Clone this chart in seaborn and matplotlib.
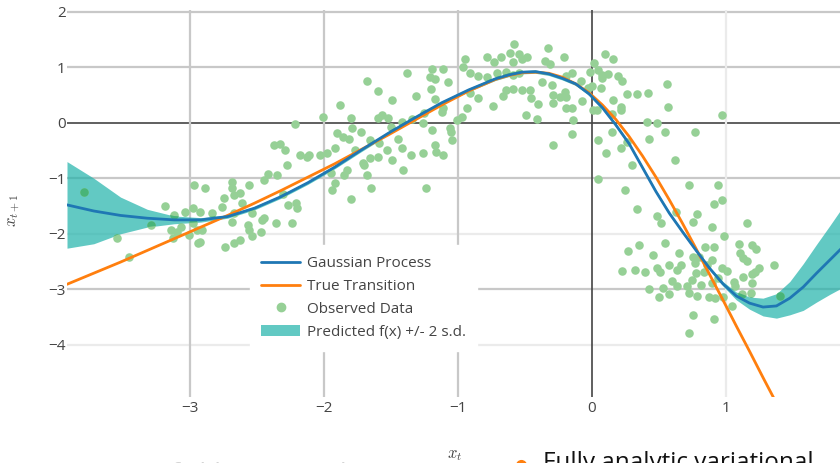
import numpy as np
import pandas as pd
import seaborn as sns
import matplotlib.pyplot as plt
from matplotlib.lines import Line2D
from matplotlib.patches import Patch

# grid the curves were read on
grid_x = [-3.92, -3.72, -3.52, -3.32, -3.12, -2.92, -2.72, -2.52, -2.32, -2.12,
          -1.92, -1.72, -1.52, -1.32, -1.12, -0.92, -0.72, -0.62, -0.52, -0.42,
          -0.32, -0.22, -0.12, -0.02, 0.08, 0.18, 0.28, 0.38, 0.48, 0.58,
          0.68, 0.78, 0.88, 0.98, 1.08, 1.18, 1.28, 1.38, 1.48, 1.58,
          1.68, 1.78, 1.88]

# Gaussian process posterior mean
gp_mean = [-1.48, -1.59, -1.67, -1.72, -1.75, -1.75, -1.69, -1.54, -1.33, -1.08,
           -0.80, -0.49, -0.19, 0.09, 0.36, 0.59, 0.79, 0.86, 0.91, 0.92,
           0.88, 0.80, 0.70, 0.52, 0.27, -0.04, -0.38, -0.81, -1.24, -1.63,
           -1.97, -2.30, -2.62, -2.90, -3.12, -3.25, -3.32, -3.30, -3.16, -2.96,
           -2.71, -2.47, -2.23]

# half width of the band (2 s.d.)
gp_two_sd = [0.78, 0.59, 0.33, 0.16, 0.07, 0.04, 0.03, 0.03, 0.03, 0.03,
             0.03, 0.03, 0.03, 0.03, 0.03, 0.03, 0.03, 0.03, 0.03, 0.03,
             0.03, 0.03, 0.03, 0.03, 0.03, 0.03, 0.03, 0.03, 0.03, 0.03,
             0.03, 0.03, 0.03, 0.04, 0.07, 0.11, 0.16, 0.22, 0.30, 0.42,
             0.52, 0.62, 0.73]

# true transition function
true_f = [-2.91, -2.71, -2.51, -2.30, -2.09, -1.88, -1.67, -1.45, -1.22, -0.98,
          -0.74, -0.48, -0.22, 0.05, 0.32, 0.57, 0.78, 0.85, 0.90, 0.91,
          0.89, 0.82, 0.70, 0.54, 0.32, 0.06, -0.25, -0.60, -0.98, -1.39,
          -1.82, -2.27, -2.73, -3.19, -3.66, -4.12, -4.59, -5.05, -5.51, -5.96,
          -6.40, -6.85, -7.28]

# observed transitions (x_t, x_t+1)
obs_pairs = [
    (-3.79, -1.24), (-3.55, -2.07), (-3.46, -2.41), (-3.29, -1.84), (-3.19, -1.50),
    (-3.14, -1.93), (-3.13, -2.07), (-3.12, -1.66), (-3.10, -1.96), (-3.07, -1.87),
    (-3.04, -1.60), (-3.01, -2.02), (-2.98, -1.53), (-2.98, -1.80), (-2.97, -1.12),
    (-2.95, -1.93), (-2.94, -2.16), (-2.93, -1.60), (-2.93, -2.14), (-2.91, -1.93),
    (-2.89, -1.17), (-2.84, -1.62), (-2.76, -1.51), (-2.75, -1.35), (-2.74, -2.23),
    (-2.69, -1.06), (-2.69, -1.17), (-2.69, -1.78), (-2.67, -1.30), (-2.67, -1.62),
    (-2.67, -2.16), (-2.63, -1.26), (-2.63, -2.11), (-2.61, -1.44), (-2.57, -1.84),
    (-2.56, -1.12), (-2.56, -1.93), (-2.54, -2.04), (-2.54, -1.62), (-2.47, -1.96),
    (-2.46, -1.75), (-2.45, -1.03), (-2.45, -1.71), (-2.42, -0.92), (-2.36, -1.80),
    (-2.35, -0.95), (-2.33, -0.38), (-2.37, -0.41), (-2.31, -1.28), (-2.29, -0.49),
    (-2.28, -0.77), (-2.27, -1.48), (-2.24, -1.80), (-2.22, -0.02), (-2.21, -1.44),
    (-2.20, -1.53), (-2.18, -0.58), (-2.13, -0.61), (-2.11, -0.59), (-2.03, -0.58),
    (-2.01, 0.11), (-1.98, -0.54), (-1.95, -0.90), (-1.94, -1.21), (-1.92, -0.45),
    (-1.92, -1.08), (-1.90, -0.18), (-1.88, 0.32), (-1.86, -0.25), (-1.85, -0.94),
    (-1.83, -0.85), (-1.81, -0.29), (-1.80, 0.09), (-1.80, -1.37), (-1.79, -0.09),
    (-1.77, -0.49), (-1.72, -0.16), (-1.71, -0.72), (-1.70, -0.76), (-1.68, 0.76),
    (-1.68, -0.95), (-1.66, -0.31), (-1.66, -0.63), (-1.65, -1.17), (-1.60, 0.58),
    (-1.60, 0.09), (-1.60, -0.61), (-1.59, -0.36), (-1.57, 0.14), (-1.53, -0.49),
    (-1.52, 0.09), (-1.50, -0.07), (-1.49, 0.41), (-1.49, -0.67), (-1.45, -0.29),
    (-1.42, 0.02), (-1.42, -0.45), (-1.41, -0.85), (-1.38, 0.90), (-1.35, -0.58),
    (-1.34, 0.07), (-1.31, 0.49), (-1.26, 0.00), (-1.26, -0.54), (-1.25, 0.18),
    (-1.24, -1.17), (-1.21, 0.83), (-1.20, 0.61), (-1.19, 0.97), (-1.19, -0.14),
    (-1.17, -0.41), (-1.17, 0.79), (-1.17, 0.43), (-1.16, -0.52), (-1.12, 0.20),
    (-1.11, 0.27), (-1.11, -0.58), (-1.11, 0.97), (-1.07, 0.74), (-1.06, -0.09),
    (-1.05, -0.16), (-1.04, -0.31), (-1.01, 0.04), (-0.97, 0.11), (-0.96, 1.01),
    (-0.95, 1.15), (-0.93, 0.27), (-0.91, 0.90), (-0.91, 0.54), (-0.85, 0.85),
    (-0.85, 0.45), (-0.78, 1.19), (-0.78, 0.83), (-0.74, 0.31), (-0.73, 1.10),
    (-0.71, 0.90), (-0.68, 1.19), (-0.66, 0.49), (-0.64, 0.92), (-0.64, 0.59),
    (-0.61, 1.26), (-0.59, 1.10), (-0.59, 0.86), (-0.59, 0.61), (-0.58, 1.42),
    (-0.54, 1.23), (-0.54, 0.90), (-0.52, 1.14), (-0.52, 0.59), (-0.49, 0.14),
    (-0.48, 1.19), (-0.46, 0.59), (-0.45, 0.45), (-0.41, 0.07), (-0.40, 0.34),
    (-0.37, 0.74), (-0.35, 1.12), (-0.33, 1.35), (-0.31, 1.05), (-0.30, 0.68),
    (-0.29, 0.50), (-0.29, 0.36), (-0.29, -0.41), (-0.24, 0.47), (-0.21, 1.19),
    (-0.20, 0.56), (-0.19, 0.85), (-0.19, 0.47), (-0.19, 0.27), (-0.15, 0.90),
    (-0.15, 0.27), (-0.15, -0.20), (-0.14, 0.05), (-0.08, 0.76), (-0.07, 0.40),
    (-0.03, 0.63), (-0.01, 0.92), (0.00, 0.67), (0.01, 0.22), (0.02, 1.08),
    (0.04, 0.22), (0.05, 0.95), (0.05, -0.31), (0.05, -1.01), (0.07, 0.63),
    (0.08, 0.81), (0.08, 0.86), (0.10, 1.24), (0.11, -0.54), (0.12, 0.88),
    (0.15, 0.16), (0.15, -0.16), (0.16, 1.14), (0.16, 0.41), (0.20, 0.85),
    (0.22, 0.29), (0.22, 0.22), (0.22, -0.45), (0.23, 0.76), (0.25, -1.21),
    (0.26, 0.52), (0.26, -0.34), (0.30, -0.77), (0.34, 0.52), (0.34, -1.55),
    (0.35, -2.20), (0.27, -2.31), (0.23, -2.67), (0.32, -2.65), (0.40, -2.68),
    (0.41, 0.02), (0.42, 0.54), (0.43, -0.29), (0.43, -2.99), (0.46, -2.38),
    (0.49, -2.61), (0.49, 0.00), (0.49, -1.68), (0.50, -3.14), (0.51, -2.68),
    (0.52, -1.80), (0.53, -2.97), (0.55, -0.16), (0.55, -2.16), (0.56, 0.70),
    (0.57, 0.29), (0.58, -2.56), (0.58, -3.08), (0.60, -2.85), (0.62, -0.67),
    (0.63, -1.60), (0.64, -2.65), (0.64, -2.94), (0.65, -2.34), (0.67, -2.56),
    (0.71, -2.94), (0.73, -1.12), (0.73, -3.06), (0.73, -3.78), (0.75, -2.83),
    (0.76, -1.78), (0.76, -2.41), (0.76, -3.46), (0.77, -0.16), (0.77, -2.52),
    (0.78, -2.70), (0.79, -1.64), (0.79, -3.12), (0.80, -2.41), (0.82, -2.92),
    (0.84, -2.68), (0.85, -2.23), (0.86, -2.56), (0.88, -3.14), (0.90, -1.87),
    (0.90, -2.47), (0.90, -2.88), (0.91, -1.46), (0.91, -2.23), (0.91, -3.53),
    (0.92, -3.15), (0.94, -1.12), (0.94, -2.79), (0.97, 0.14), (0.97, -1.39),
    (0.97, -2.61), (0.98, -3.14), (0.99, -2.04), (1.01, -2.67), (1.05, -3.30),
    (1.06, -2.86), (1.07, -2.94), (1.10, -2.18), (1.11, -2.34), (1.12, -3.08),
    (1.13, -2.43), (1.13, -2.77), (1.16, -1.80), (1.16, -2.49), (1.19, -3.06),
    (1.20, -2.20), (1.20, -2.72), (1.20, -2.88), (1.22, -2.68), (1.23, -2.27),
    (1.25, -2.61), (1.36, -2.56), (1.41, -3.12),
]

x_ticks = [-3, -2, -1, 0, 1]
y_ticks = [2, 1, 0, -1, -2, -3, -4]
x_tick_labels = ['\u22123', '\u22122', '\u22121', '0', '1']
y_tick_labels = ['2', '1', '0', '\u22121', '\u22122', '\u22123', '\u22124']

curves = pd.DataFrame({'x': grid_x, 'mean': gp_mean, 'sd2': gp_two_sd, 'true': true_f})
curves['upper'] = curves['mean'] + curves['sd2']
curves['lower'] = curves['mean'] - curves['sd2']
obs = pd.DataFrame(obs_pairs, columns=['x_t', 'x_t1'])

sns.set_style('white')
plt.rcParams['font.family'] = ['Open Sans', 'DejaVu Sans']
plt.rcParams['mathtext.fontset'] = 'cm'

fig = plt.figure(figsize=(8.4, 4.63), dpi=100)
ax = fig.add_axes([67 / 840, 1 - 397 / 463, 1 - 67 / 840, (397 - 10) / 463])

blue = '#1f77b4'
orange = '#ff7f0e'
teal = '#20b2aa'
green_on_white = '#96d096'   # green at half opacity over white
green_on_band = '#48b478'    # same green at half opacity over the band

# grid lines (some darker, like the original)
for v in y_ticks:
    col = '#444444' if v == 0 else ('#ebebeb' if v in (-2, -4) else '#c8c8c8')
    ax.axhline(v, color=col, lw=1.6 if v != 0 else 1.2, zorder=0)
for v in x_ticks:
    col = '#444444' if v == 0 else ('#ebebeb' if v == 1 else '#c8c8c8')
    ax.axvline(v, color=col, lw=1.6 if v != 0 else 1.2, zorder=0)

band = ax.fill_between(curves['x'], curves['lower'], curves['upper'], color=teal,
                       alpha=0.7, lw=0, zorder=1)
sns.scatterplot(data=obs, x='x_t', y='x_t1', color=green_on_white, s=38,
                linewidth=0, ax=ax, zorder=2)
# points seen through the band look darker in the original
sns.scatterplot(data=obs, x='x_t', y='x_t1', color=green_on_band, s=38,
                linewidth=0, ax=ax, zorder=2.1)
ax.collections[-1].set_clip_path(band.get_paths()[0], transform=ax.transData)

sns.lineplot(data=curves, x='x', y='true', color=orange, lw=2, ax=ax,
             sort=False, estimator=None, zorder=3)
sns.lineplot(data=curves, x='x', y='mean', color=blue, lw=2, ax=ax,
             sort=False, estimator=None, zorder=4)

ax.set_xlim(-3.92, 1.855)
ax.set_ylim(-4.94, 2.03)
ax.set_xticks(x_ticks)
ax.set_xticklabels(x_tick_labels)
ax.set_yticks(y_ticks)
ax.set_yticklabels(y_tick_labels)
ax.tick_params(length=0, labelsize=11, labelcolor='#444444')
ax.tick_params(axis='y', pad=1)
ax.tick_params(axis='x', pad=3)
ax.set_xlabel('')
ax.set_ylabel('')
for s in ax.spines.values():
    s.set_visible(False)

handles = [
    Line2D([], [], color=blue, lw=2),
    Line2D([], [], color=orange, lw=2),
    Line2D([], [], color=green_on_white, marker='o', ls='', markersize=6),
    Patch(color=teal, alpha=0.7, lw=0),
]
labels = ['Gaussian Process', 'True Transition', 'Observed Data',
          'Predicted f(x) +/- 2 s.d.']
leg = ax.legend(handles, labels, loc='upper left', bbox_to_anchor=(0.237, 0.393),
                borderaxespad=0, frameon=True, facecolor='white', edgecolor='white',
                framealpha=1, fancybox=False, fontsize=11, handlelength=2.55,
                handletextpad=0.46, labelspacing=0.52, borderpad=0.72)
for t in leg.get_texts():
    t.set_color('#444444')

fig.text(14 / 840, 1 - 210 / 463, r'$x_{t+1}$', rotation=90, ha='center',
         va='center', fontsize=12, color='#444444')
fig.text(455 / 840, 1 - 455 / 463, r'$x_t$', ha='center', va='center',
         fontsize=12, color='#444444')

# next row of the figure, cut off at the bottom edge
fig.text(100 / 840, 1 - 480 / 463, 'Mean-field variational', ha='left',
         va='baseline', fontsize=17.5, color='#d4d4d4')
fig.text(543 / 840, 1 - 469 / 463, 'Fully analytic variational', ha='left',
         va='baseline', fontsize=17.5, color='#111111')
fig.lines.append(Line2D([521 / 840], [1 - 465 / 463], marker='o', color=orange,
                        markersize=7, transform=fig.transFigure, clip_on=False))

fig.savefig('out.png', dpi=100)
